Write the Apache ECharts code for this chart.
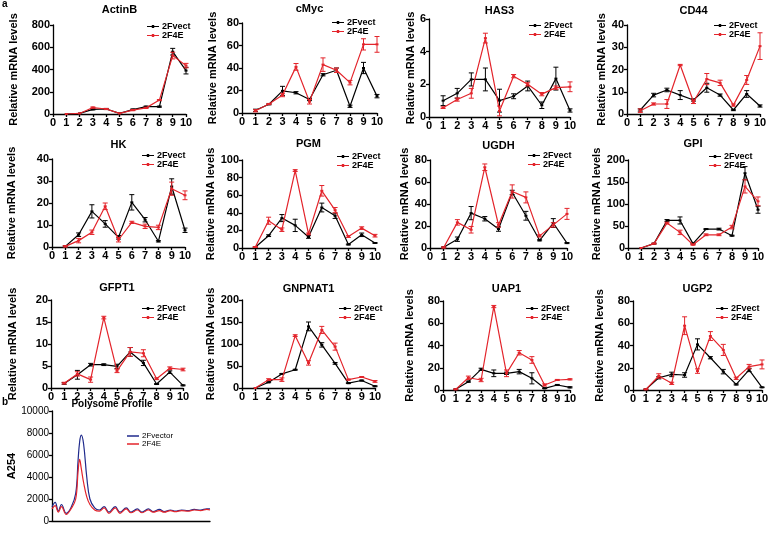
<!DOCTYPE html>
<html><head><meta charset="utf-8">
<script src="https://cdn.jsdelivr.net/npm/echarts@6/dist/echarts.min.js"></script>
<style>html,body{margin:0;padding:0;background:#fff}#c{width:769px;height:536px}</style>
</head><body><div id="c"></div><script>
// ---------- DATA ----------
const fractions = [1,2,3,4,5,6,7,8,9,10];
const xTicks = [0,1,2,3,4,5,6,7,8,9,10];
const seriesNames = ['2Fvect','2F4E'];

const ActinB_vect = [0,5,42,45,5,40,66,66,560,390];
const ActinB_vect_err = [0,0,5,5,0,5,5,5,30,30];
const ActinB_4E = [0,5,58,45,5,35,55,125,525,435];
const ActinB_4E_err = [0,0,5,5,0,5,5,5,30,20];

const cMyc_vect = [2.4,7.8,19.7,18,12,34,38,6,40,15];
const cMyc_vect_err = [1,0.5,4,1,1,1,2,1,5,1.5];
const cMyc_4E = [2,8,16,41,10,43,38,27,61,61];
const cMyc_4E_err = [1,0.5,1.5,3,2,6,2,2,5,7];

const HAS3_vect = [1.0,1.45,2.3,2.3,1.0,1.27,1.9,0.72,2.35,0.4];
const HAS3_vect_err = [0.3,0.3,0.4,0.7,0.7,0.15,0.3,0.2,0.7,0.1];
const HAS3_4E = [0.57,1.07,1.45,4.83,0.37,2.5,2.0,1.4,1.8,1.85];
const HAS3_4E_err = [0.05,0.1,0.3,0.3,0.3,0.1,0.1,0.1,0.1,0.3];

const CD44_vect = [1.8,8.5,10.8,8.5,6.3,11.8,8.5,1.8,9,3.6];
const CD44_vect_err = [0.5,0.8,0.8,2,0.5,2,0.5,0.3,1.5,0.5];
const CD44_4E = [1.5,4.5,4.5,22,5.5,15.7,14,4,15.3,30.5];
const CD44_4E_err = [0.8,0.5,2,0.3,0.8,2.5,1.2,0.5,2,6];

const HK_vect = [0.3,5.6,16.2,10.5,4.4,20.3,12.4,2.6,27.5,7.6];
const HK_vect_err = [0.3,0.8,3,1.5,0.8,3.5,1,0.3,3.5,1];
const HK_4E = [0.3,2.9,6.7,18.5,3.3,11.2,9.4,8.9,26.5,23.5];
const HK_4E_err = [0.3,1,1,1.5,1,0.5,1,1,3,2];

const PGM_vect = [0.8,14,34,25.7,12.5,46,36.6,4,15,5.7];
const PGM_vect_err = [0.5,1,4,7,1.5,5,3,0.5,2,0.5];
const PGM_4E = [1.1,31,20.8,88,16,65,43,13,22.6,14];
const PGM_4E_err = [0.5,4,2,1,1,6,3,1,1.5,1.5];

const UGDH_vect = [0.6,8,31.7,26.6,17.2,50.5,29.3,7,22.7,4.5];
const UGDH_vect_err = [0.5,2,6,2,2,2,4,0.5,4,0.5];
const UGDH_4E = [0.5,23.3,16.6,73.4,21,51.4,46,11,21,31];
const UGDH_4E_err = [0.5,2.5,3,3,2,6,5,1,2,5];

const GPI_vect = [0,10,62.6,62.6,10,43,43,28,170,87];
const GPI_vect_err = [0,1,2,8,1,1,2,1,15,8];
const GPI_4E = [0,10,56.6,35.5,7.5,30,30,47.5,140,106];
const GPI_4E_err = [0,1,2,5,1,2,2,4,15,10];

const GFPT1_vect = [1.05,3.0,5.3,5.3,4.9,8.2,5.7,0.9,3.6,0.6];
const GFPT1_vect_err = [0.2,1,0.3,0.2,0.5,1,0.6,0.1,0.3,0.1];
const GFPT1_4E = [1.1,3.2,1.9,16,3.9,8.2,7.9,2.1,4.5,4.2];
const GFPT1_4E_err = [0.2,0.5,0.6,0.3,0.4,1,0.8,0.2,0.3,0.3];

const GNPNAT1_vect = [0,13,32,41.5,140,98,56,11,17,4];
const GNPNAT1_vect_err = [0,1,1,1,10,5,2,1,1,1];
const GNPNAT1_4E = [0,19,19,119,57,132,94,19,25,15];
const GNPNAT1_4E_err = [0,2,4,2,5,8,8,1,1,2];

const UAP1_vect = [0.6,7.5,18.6,15,15,16.5,10.5,1.5,4.5,2.4];
const UAP1_vect_err = [0.3,0.5,1,3,1,2,5,0.3,0.5,0.5];
const UAP1_4E = [0.6,11,9,75,15,33.5,27,4.5,9,9.6];
const UAP1_4E_err = [0.3,1.5,1.5,1,3,2,3,1,0.5,0.5];

const UGP2_vect = [0.6,11,14,13.5,41,29,16.5,5,18,2.4];
const UGP2_vect_err = [0.3,1,2,2,5,1,2,0.5,1.5,0.3];
const UGP2_4E = [0.6,12.6,6,57.8,17,48.5,36,10.5,21,23];
const UGP2_4E_err = [0.3,2,1,8,2,4,5,1,2,4];

// Polysome profile (position along gradient 0-100, A254)
const poly_pos    = [0,2,4,6,9,12,15,16.5,17.5,18.5,20,22,24,27,30,33,36,40,43,47,50,54,57,61,64,68,71,75,78,82,86,90,94,98,100];
const poly_vector = [1300,1700,900,1500,700,1200,2500,5500,7200,7800,7000,4000,2000,1200,1000,1300,800,1300,800,1200,800,1100,800,1100,850,1050,850,1000,900,1000,950,1050,1000,1100,1100];
const poly_4E     = [1100,1400,800,1300,600,1100,2000,4500,5600,4800,3500,2200,1500,1000,900,1200,700,1200,700,1100,750,1000,750,1000,800,950,800,950,850,950,900,1000,950,1050,1000];
const polyTicks = [0,2000,4000,6000,8000,10000];

// ---------- LAYOUT ----------
const FONT = '"Liberation Sans", Arial, sans-serif';
const BLACK = '#000000', RED = '#e3242b';
const panels = [
 {t:'ActinB', d:[ActinB_vect,ActinB_vect_err,ActinB_4E,ActinB_4E_err], max:800, step:200, l:53, r:186, top:25, bot:114, gap:34, lx:147, ly:22, ty:11},
 {t:'cMyc', d:[cMyc_vect,cMyc_vect_err,cMyc_4E,cMyc_4E_err], max:80, step:20, l:242, r:377, top:23, bot:113, gap:24, lx:332, ly:18, ty:10},
 {t:'HAS3', d:[HAS3_vect,HAS3_vect_err,HAS3_4E,HAS3_4E_err], max:6, step:2, l:429, r:570, top:19, bot:117, gap:12, lx:529, ly:21, ty:11.5},
 {t:'CD44', d:[CD44_vect,CD44_vect_err,CD44_4E,CD44_4E_err], max:40, step:10, l:627, r:760, top:25, bot:114, gap:20, lx:714, ly:21, ty:11.5},
 {t:'HK', d:[HK_vect,HK_vect_err,HK_4E,HK_4E_err], max:40, step:10, l:52, r:185, top:159, bot:247, gap:35, lx:142, ly:151, ty:146},
 {t:'PGM', d:[PGM_vect,PGM_vect_err,PGM_4E,PGM_4E_err], max:100, step:20, l:242, r:375, top:160, bot:248, gap:24, lx:337, ly:152, ty:145},
 {t:'UGDH', d:[UGDH_vect,UGDH_vect_err,UGDH_4E,UGDH_4E_err], max:80, step:20, l:430, r:567, top:160, bot:248, gap:15, lx:528, ly:151, ty:146.5},
 {t:'GPI', d:[GPI_vect,GPI_vect_err,GPI_4E,GPI_4E_err], max:200, step:50, l:628, r:758, top:160, bot:248, gap:23, lx:709, ly:152, ty:145},
 {t:'GFPT1', d:[GFPT1_vect,GFPT1_vect_err,GFPT1_4E,GFPT1_4E_err], max:20, step:5, l:51, r:183, top:300, bot:388, gap:33, lx:142, ly:304, ty:289},
 {t:'GNPNAT1', d:[GNPNAT1_vect,GNPNAT1_vect_err,GNPNAT1_4E,GNPNAT1_4E_err], max:200, step:50, l:242, r:375, top:300, bot:388, gap:20, lx:339, ly:304, ty:290},
 {t:'UAP1', d:[UAP1_vect,UAP1_vect_err,UAP1_4E,UAP1_4E_err], max:80, step:20, l:443, r:570, top:301, bot:390, gap:28, lx:526, ly:304, ty:290},
 {t:'UGP2', d:[UGP2_vect,UGP2_vect_err,UGP2_4E,UGP2_4E_err], max:80, step:20, l:633, r:762, top:301, bot:390, gap:28, lx:716, ly:304, ty:290}
];

const grids = [], xAxes = [], yAxes = [], series = [], titles = [], legends = [];
const axisCommon = {
  axisLine:{show:true, lineStyle:{color:BLACK, width:1.3}},
  axisTick:{show:true, length:3, inside:false, lineStyle:{color:BLACK, width:1.3}},
  axisLabel:{color:BLACK, fontWeight:'bold', fontSize:11, fontFamily:FONT, margin:3, hideOverlap:false, showMinLabel:true, showMaxLabel:true},
  splitLine:{show:false}
};
const legendIcon = 'path://M0,2.6h12v1h-12zM4.8,1.6h2.4v3h-2.4z';
function errRender(params, api){
  const x = api.value(0), lo = api.value(1), hi = api.value(2);
  if (hi - lo <= 0) return null;
  const a = api.coord([x, hi]), b = api.coord([x, lo]);
  const c = api.visual('color'), w = 2.5;
  return {type:'group', children:[
    {type:'line', shape:{x1:a[0],y1:a[1],x2:b[0],y2:b[1]}, style:{stroke:c, lineWidth:1}},
    {type:'line', shape:{x1:a[0]-w,y1:a[1],x2:a[0]+w,y2:a[1]}, style:{stroke:c, lineWidth:1}},
    {type:'line', shape:{x1:b[0]-w,y1:b[1],x2:b[0]+w,y2:b[1]}, style:{stroke:c, lineWidth:1}}
  ]};
}
panels.forEach((p, i) => {
  grids.push({left:p.l, width:p.r - p.l, top:p.top, height:p.bot - p.top, containLabel:false, outerBoundsMode:'none'});
  xAxes.push(Object.assign({}, axisCommon, {gridIndex:i, type:'value', min:xTicks[0], max:xTicks[xTicks.length-1], interval:1}));
  yAxes.push(Object.assign({}, axisCommon, {gridIndex:i, type:'value', min:0, max:p.max, interval:p.step,
    name:'Relative mRNA levels', nameLocation:'middle', nameGap:p.gap, nameRotate:90,
    nameTextStyle:{color:BLACK, fontWeight:'bold', fontSize:11, fontFamily:FONT}}));
  titles.push({text:p.t, left:(p.l + p.r)/2, top:p.ty - 6.5, textAlign:'center',
    textStyle:{color:BLACK, fontWeight:'bold', fontSize:11, fontFamily:FONT}});
  const cols = [BLACK, RED];
  [0,1].forEach(k => {
    const vals = p.d[k*2], errs = p.d[k*2+1];
    series.push({name:seriesNames[k], type:'line', xAxisIndex:i, yAxisIndex:i,
      data: fractions.map((f, j) => [f, vals[j]]),
      symbol:'rect', symbolSize:[3,2], showSymbol:true,
      lineStyle:{color:cols[k], width:1.2}, itemStyle:{color:cols[k]}, emphasis:{disabled:true}, z:3 + k, animation:false});
    series.push({name:'err'+k, type:'custom', xAxisIndex:i, yAxisIndex:i, renderItem:errRender,
      itemStyle:{color:cols[k]}, data: fractions.map((f, j) => [f, vals[j] - errs[j], vals[j] + errs[j]]),
      z:3 + k, animation:false, silent:true});
  });
  legends.push({data:seriesNames.map(n => ({name:n, icon:legendIcon})), orient:'vertical', left:p.lx, top:p.ly, padding:0, itemGap:0,
    itemWidth:12, itemHeight:6, selectedMode:false,
    textStyle:{color:BLACK, fontWeight:'bold', fontSize:9, fontFamily:FONT, lineHeight:9, padding:[0,0,0,-2]}});
});

// Polysome panel
const pi = panels.length;
grids.push({left:52, width:158, top:411, height:110, containLabel:false, outerBoundsMode:'none'});
xAxes.push({gridIndex:pi, type:'value', min:0, max:100, axisLine:{show:true, lineStyle:{color:BLACK, width:1.3}},
  axisTick:{show:false}, axisLabel:{show:false}, splitLine:{show:false}});
yAxes.push(Object.assign({}, axisCommon, {gridIndex:pi, type:'value', min:polyTicks[0], max:polyTicks[polyTicks.length-1], interval:2000,
  axisLabel:Object.assign({}, axisCommon.axisLabel, {fontSize:10, fontWeight:'normal', formatter:v => String(v)}),
  name:'A254', nameLocation:'middle', nameGap:34, nameRotate:90,
  nameTextStyle:{color:BLACK, fontWeight:'bold', fontSize:11, fontFamily:FONT}}));
series.push({name:'2Fvector', type:'line', xAxisIndex:pi, yAxisIndex:pi, smooth:0.4, showSymbol:false,
  data: poly_pos.map((x, j) => [x, poly_vector[j]]), lineStyle:{color:'#1f2a8c', width:1.2}, itemStyle:{color:'#1f2a8c'}, animation:false});
series.push({name:'2F4E', type:'line', xAxisIndex:pi, yAxisIndex:pi, smooth:0.4, showSymbol:false,
  data: poly_pos.map((x, j) => [x, poly_4E[j]]), lineStyle:{color:RED, width:1.2}, itemStyle:{color:RED}, animation:false, z:3});
titles.push({text:'Polysome Profile', left:112, top:399, textAlign:'center', textStyle:{color:BLACK, fontWeight:'bold', fontSize:10, fontFamily:FONT}});
legends.push({data:[{name:'2Fvector', icon:'rect'},{name:'2F4E', icon:'rect'}], orient:'vertical', left:127, top:432, padding:0, itemGap:0,
  itemWidth:12, itemHeight:1.5, selectedMode:false,
  textStyle:{color:BLACK, fontSize:8, fontFamily:FONT, lineHeight:8, padding:[0,0,0,-2]}});
titles.push({text:'a', left:2, top:-1, textStyle:{color:BLACK, fontWeight:'bold', fontSize:10, fontFamily:FONT}});
titles.push({text:'b', left:2, top:397, textStyle:{color:BLACK, fontWeight:'bold', fontSize:10, fontFamily:FONT}});
titles.forEach(t => { t.padding = 0; });

const chart = echarts.init(document.getElementById('c'), null, {renderer:'canvas'});
chart.setOption({backgroundColor:'#fff', animation:false, title:titles, legend:legends, grid:grids, xAxis:xAxes, yAxis:yAxes, series:series});
</script></body></html>
